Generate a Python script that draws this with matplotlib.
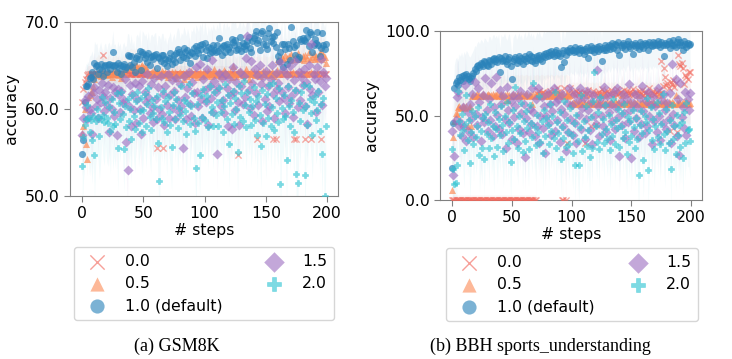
import numpy as np
import matplotlib
matplotlib.use("Agg")
import matplotlib.pyplot as plt

steps = list(range(200))
labels = ["0.0", "0.5", "1.0 (default)", "1.5", "2.0"]
panel_titles = ["(a) GSM8K", "(b) BBH sports_understanding"]

# ---------------- GSM8K ----------------
gsm_t00 = [
    60.8, 62.3, 63.1, 63.5, 63.9, 64.0, 64.0, 64.0, 64.0, 64.0,
    64.0, 64.0, 64.0, 64.0, 64.0, 64.0, 64.0, 66.2, 64.0, 64.0,
    64.0, 64.0, 64.0, 64.0, 64.0, 64.0, 64.0, 64.0, 64.0, 64.0,
    64.0, 64.0, 64.0, 64.0, 64.0, 64.0, 64.0, 64.0, 64.0, 64.0,
    64.0, 64.0, 64.0, 64.0, 64.0, 64.0, 64.0, 64.0, 64.0, 64.0,
    64.0, 64.0, 64.0, 64.0, 64.0, 64.0, 64.0, 64.0, 64.0, 64.0,
    64.0, 55.5, 64.0, 64.0, 64.0, 64.0, 55.5, 64.0, 64.0, 64.0,
    64.0, 64.0, 64.0, 64.0, 64.0, 64.0, 64.0, 64.0, 64.0, 64.0,
    64.0, 64.0, 64.0, 64.0, 64.0, 64.0, 64.0, 64.0, 64.0, 64.0,
    64.0, 64.0, 64.0, 64.0, 64.0, 64.0, 64.0, 64.0, 64.0, 64.0,
    64.0, 64.0, 64.0, 64.0, 64.0, 64.0, 64.0, 64.0, 64.0, 64.0,
    64.0, 64.0, 64.0, 64.0, 64.0, 64.0, 64.0, 64.0, 64.0, 64.0,
    64.0, 64.0, 64.0, 64.0, 64.0, 64.0, 64.0, 54.7, 64.0, 64.0,
    64.0, 64.0, 64.0, 64.0, 64.0, 64.0, 64.0, 64.0, 64.0, 64.0,
    64.0, 64.0, 64.0, 56.5, 64.0, 64.0, 64.0, 64.0, 64.0, 64.0,
    64.0, 64.0, 64.0, 64.0, 64.0, 64.0, 56.5, 64.0, 56.5, 64.0,
    64.0, 64.0, 64.0, 64.0, 64.0, 64.0, 64.0, 64.0, 64.0, 64.0,
    64.0, 64.0, 64.0, 56.5, 64.0, 56.5, 64.0, 64.0, 64.0, 64.0,
    64.0, 64.0, 56.5, 64.0, 64.0, 64.0, 64.0, 56.5, 64.0, 64.0,
    64.0, 64.0, 64.0, 64.0, 64.0, 56.5, 64.0, 64.0, 64.0, 64.0,
]
gsm_t05 = [
    57.2, 58.0, 60.0, 56.0, 54.3, 61.4, 61.6, 61.9, 62.0, 62.6,
    63.5, 63.9, 64.0, 64.3, 64.2, 63.8, 64.1, 64.4, 64.0, 64.2,
    63.9, 64.1, 64.3, 64.0, 63.7, 64.2, 64.0, 64.5, 64.1, 63.9,
    64.2, 64.0, 63.6, 64.3, 64.1, 64.0, 64.8, 64.9, 64.7, 64.9,
    65.0, 64.8, 64.9, 64.7, 65.0, 64.9, 64.8, 64.6, 64.9, 65.0,
    64.8, 64.9, 64.7, 64.2, 64.0, 63.9, 64.1, 64.3, 64.0, 64.5,
    64.0, 64.2, 63.8, 64.1, 64.0, 64.4, 64.1, 63.9, 64.2, 64.0,
    63.7, 64.1, 64.0, 64.3, 64.0, 63.9, 64.2, 63.6, 64.0, 64.1,
    64.3, 63.9, 64.1, 63.5, 64.0, 64.2, 63.8, 64.1, 64.0, 64.4,
    64.0, 63.9, 64.2, 64.1, 63.7, 64.0, 64.3, 64.0, 63.8, 64.1,
    64.2, 63.9, 64.0, 64.4, 64.1, 63.8, 64.0, 64.2, 64.6, 64.1,
    63.9, 64.0, 64.3, 63.8, 64.1, 64.0, 64.5, 64.2, 63.9, 64.1,
    64.0, 64.3, 63.7, 64.9, 64.1, 64.0, 63.8, 64.2, 64.0, 64.4,
    64.1, 63.9, 64.0, 64.2, 64.6, 64.0, 63.5, 64.1, 64.3, 64.0,
    64.2, 63.9, 64.1, 64.0, 64.3, 63.8, 64.1, 64.0, 64.4, 64.2,
    64.0, 64.1, 63.9, 64.2, 64.0, 64.3, 64.1, 63.8, 64.0, 64.5,
    65.8, 65.5, 64.1, 66.0, 65.7, 64.3, 66.2, 65.9, 64.0, 66.1,
    65.6, 66.3, 64.2, 65.8, 66.0, 64.1, 66.4, 65.7, 65.9, 64.3,
    66.1, 65.6, 66.2, 64.0, 65.9, 66.5, 65.8, 64.2, 66.0, 66.3,
    65.7, 66.1, 64.1, 65.9, 66.4, 66.7, 65.8, 66.2, 66.0, 65.3,
]
gsm_t10 = [
    54.8, 56.4, 60.8, 62.7, 62.6, 62.9, 63.6, 63.7, 64.2, 63.4,
    65.3, 64.9, 65.1, 64.0, 64.6, 65.2, 64.5, 63.8, 64.9, 65.1,
    64.3, 65.0, 65.2, 64.6, 65.1, 66.5, 64.9, 65.0, 64.2, 65.3,
    64.7, 65.1, 64.0, 64.9, 65.2, 64.6, 64.8, 66.2, 66.1, 65.0,
    66.1, 64.8, 65.4, 64.2, 65.9, 66.1, 65.7, 66.7, 64.5, 66.5,
    66.3, 65.9, 66.2, 65.4, 66.4, 65.1, 66.0, 66.1, 65.8, 66.2,
    66.3, 64.7, 66.0, 65.9, 65.5, 66.2, 66.2, 65.3, 65.8, 64.9,
    65.6, 65.9, 66.4, 65.2, 65.8, 66.2, 65.4, 66.4, 66.9, 66.6,
    65.6, 66.3, 66.0, 67.0, 66.5, 65.9, 66.8, 66.2, 65.3, 66.6,
    66.4, 67.0, 66.1, 67.2, 66.8, 66.4, 67.3, 66.9, 67.5, 66.0,
    67.6, 66.8, 65.9, 67.1, 66.4, 67.0, 66.5, 67.3, 66.8, 66.5,
    67.3, 66.7, 68.2, 67.0, 66.2, 67.2, 67.4, 66.6, 67.5, 66.9,
    67.1, 66.5, 68.0, 67.7, 67.3, 67.9, 66.8, 66.9, 67.3, 68.3,
    66.7, 67.6, 67.2, 66.9, 67.4, 67.8, 68.3, 67.0, 66.5, 67.8,
    68.2, 68.5, 69.0, 67.6, 67.9, 66.8, 68.7, 69.0, 67.5, 68.2,
    67.4, 66.9, 68.7, 69.3, 67.8, 68.3, 67.6, 68.4, 67.1, 68.8,
    66.1, 65.5, 66.6, 67.5, 64.8, 67.5, 66.9, 65.2, 67.5, 67.0,
    65.6, 69.4, 67.8, 67.1, 66.2, 67.4, 65.7, 66.0, 68.0, 67.8,
    68.2, 67.9, 67.8, 69.1, 68.3, 67.2, 68.9, 68.6, 66.5, 67.3,
    68.1, 67.6, 68.8, 67.4, 66.1, 67.0, 68.7, 67.3, 66.9, 67.5,
]
gsm_t15 = [
    57.0, 59.0, 61.0, 60.2, 58.9, 61.5, 60.0, 59.5, 57.1, 61.8,
    62.5, 60.3, 61.2, 59.0, 62.2, 60.8, 63.0, 61.5, 59.8, 62.0,
    60.5, 62.8, 57.4, 61.3, 60.0, 62.5, 59.2, 61.9, 57.0, 62.3,
    61.6, 59.6, 62.1, 60.7, 61.0, 63.4, 56.2, 53.0, 60.4, 62.8,
    58.1, 61.7, 59.9, 63.0, 58.4, 61.2, 62.6, 60.0, 57.1, 63.2,
    59.0, 62.0, 60.8, 64.0, 61.4, 59.5, 62.9, 60.2, 58.5, 63.6,
    61.2, 58.8, 62.5, 60.0, 63.8, 59.4, 61.7, 58.2, 62.6, 60.5,
    64.0, 59.0, 61.6, 63.3, 60.1, 62.1, 58.8, 63.6, 61.0, 59.7,
    62.9, 60.3, 55.5, 63.8, 61.4, 58.9, 62.4, 64.3, 60.6, 59.2,
    63.1, 61.8, 58.4, 64.8, 62.0, 60.4, 65.2, 61.1, 59.0, 63.5,
    62.2, 60.8, 64.6, 58.2, 62.7, 61.3, 65.6, 59.6, 63.2, 61.9,
    54.8, 62.5, 64.1, 60.3, 63.6, 61.0, 59.5, 64.0, 62.4, 58.0,
    63.4, 61.6, 57.7, 64.8, 62.0, 59.9, 63.1, 60.8, 58.2, 64.2,
    62.7, 60.6, 63.8, 61.4, 65.9, 68.4, 62.2, 60.1, 65.5, 63.0,
    59.3, 64.6, 61.8, 63.9, 60.5, 65.1, 62.9, 58.6, 63.7, 61.2,
    64.4, 59.8, 62.6, 60.3, 63.5, 65.0, 61.7, 59.0, 64.1, 62.3,
    63.0, 60.9, 65.4, 62.0, 64.5, 61.3, 59.5, 63.9, 62.5, 60.7,
    64.9, 61.5, 59.1, 63.3, 65.5, 62.1, 60.2, 64.2, 61.0, 63.7,
    62.8, 64.6, 60.4, 63.1, 58.3, 65.0, 62.3, 67.5, 61.6, 64.0,
    63.5, 59.6, 64.8, 61.9, 63.2, 65.7, 60.5, 64.3, 62.7, 63.6,
]
gsm_t20 = [
    53.4, 56.8, 58.2, 58.9, 60.5, 59.0, 57.3, 58.7, 56.4, 59.2,
    54.7, 58.6, 60.0, 59.1, 56.9, 58.8, 61.4, 59.3, 58.5, 60.8,
    59.0, 58.4, 60.2, 57.5, 61.2, 58.0, 59.6, 58.3, 61.8, 55.5,
    60.7, 58.9, 62.0, 59.4, 55.4, 60.3, 57.9, 61.1, 58.6, 60.0,
    56.6, 61.6, 59.2, 57.7, 60.9, 62.0, 58.4, 59.8, 61.3, 57.4,
    59.9, 61.7, 58.1, 60.6, 62.4, 59.1, 57.6, 61.0, 59.5, 60.4,
    58.8, 61.5, 56.1, 51.7, 60.2, 59.0, 62.1, 58.5, 60.9, 57.3,
    61.4, 59.7, 58.2, 55.6, 60.5, 62.0, 58.9, 61.2, 57.8, 60.1,
    59.3, 62.6, 58.6, 61.0, 59.8, 57.1, 60.7, 62.9, 58.3, 60.4,
    61.8, 59.0, 57.5, 53.2, 60.6, 58.4, 54.7, 61.6, 59.1, 62.3,
    58.7, 60.9, 61.5, 57.9, 62.7, 59.6, 60.2, 58.1, 61.9, 59.3,
    60.8, 58.0, 62.4, 59.7, 61.0, 57.4, 60.4, 62.9, 58.9, 61.6,
    56.0, 60.7, 59.4, 62.1, 58.3, 61.3, 60.0, 55.0, 62.6, 59.1,
    61.8, 58.6, 63.2, 60.5, 57.9, 62.0, 59.7, 61.1, 58.2, 60.3,
    62.5, 58.7, 60.9, 57.0, 61.5, 59.3, 55.8, 62.2, 58.4, 60.6,
    56.9, 61.7, 59.0, 62.8, 58.1, 60.2, 63.0, 57.6, 61.3, 59.5,
    58.5, 62.4, 51.4, 60.1, 58.8, 61.6, 59.2, 54.1, 62.7, 60.3,
    58.0, 61.0, 59.6, 57.3, 62.2, 52.5, 51.5, 60.7, 58.6, 61.9,
    59.9, 62.8, 52.4, 60.4, 58.2, 62.7, 61.2, 59.5, 57.0, 60.8,
    61.5, 58.7, 59.9, 62.1, 57.5, 60.6, 54.8, 61.3, 50.0, 58.0,
]

# ---------------- BBH sports_understanding ----------------
bbh_t00 = [
    0.0, 0.0, 0.0, 0.0, 0.0, 0.0, 0.0, 0.0, 0.0, 0.0,
    0.0, 0.0, 0.0, 0.0, 0.0, 0.0, 0.0, 0.0, 0.0, 0.0,
    0.0, 0.0, 0.0, 0.0, 0.0, 0.0, 0.0, 0.0, 0.0, 0.0,
    0.0, 0.0, 0.0, 0.0, 0.0, 0.0, 0.0, 0.0, 0.0, 0.0,
    0.0, 0.0, 0.0, 0.0, 0.0, 0.0, 0.0, 0.0, 0.0, 0.0,
    0.0, 0.0, 0.0, 0.0, 0.0, 0.0, 0.0, 0.0, 0.0, 0.0,
    0.0, 0.0, 0.0, 0.0, 0.0, 0.0, 0.0, 0.0, 0.0, 0.0,
    0.0, 62.5, 63.0, 64.5, 62.0, 63.5, 64.0, 62.5, 63.0, 61.5,
    63.5, 62.0, 64.5, 62.5, 63.0, 65.0, 63.5, 62.0, 66.0, 64.0,
    63.0, 62.5, 0.0, 0.0, 66.0, 0.0, 33.6, 63.5, 62.0, 66.0,
    62.5, 64.0, 63.0, 62.0, 64.5, 63.5, 62.5, 64.0, 61.0, 63.0,
    64.0, 33.7, 62.5, 63.5, 65.0, 62.0, 44.0, 63.0, 64.5, 62.5,
    44.5, 63.5, 62.0, 64.0, 63.0, 65.5, 62.5, 64.0, 63.5, 62.0,
    64.5, 63.0, 62.5, 65.0, 63.5, 62.0, 64.0, 63.0, 65.5, 62.5,
    63.5, 64.0, 62.0, 63.0, 65.0, 62.5, 64.5, 63.5, 62.0, 64.0,
    63.0, 65.5, 62.5, 64.0, 63.5, 62.0, 64.5, 63.0, 62.5, 65.0,
    62.0, 63.5, 64.0, 62.5, 63.0, 66.0, 62.0, 63.5, 64.5, 62.5,
    63.0, 64.0, 62.5, 65.0, 63.5, 82.0, 67.5, 78.0, 73.0, 68.0,
    69.0, 66.5, 40.8, 70.0, 68.5, 71.0, 67.0, 69.5, 40.0, 86.0,
    80.5, 79.5, 81.0, 78.0, 68.5, 74.0, 73.0, 71.5, 76.0, 75.5,
]
bbh_t05 = [
    6.0, 37.0, 47.0, 51.5, 51.0, 55.0, 55.5, 54.5, 55.0, 55.5,
    55.0, 54.5, 55.5, 44.0, 55.0, 55.5, 44.0, 61.5, 62.0, 61.5,
    62.0, 62.5, 61.5, 62.0, 61.5, 62.0, 63.0, 62.0, 61.5, 62.0,
    62.5, 62.0, 61.5, 62.0, 62.5, 61.5, 62.0, 62.0, 62.5, 61.5,
    62.0, 62.5, 61.5, 62.0, 62.0, 59.0, 62.5, 59.0, 62.0, 61.5,
    62.0, 62.5, 61.5, 62.0, 62.0, 62.5, 61.5, 62.0, 62.5, 62.0,
    61.5, 62.0, 62.5, 62.0, 61.5, 62.0, 62.0, 57.0, 62.5, 61.5,
    62.0, 62.5, 62.0, 61.5, 62.0, 62.5, 62.0, 61.5, 62.0, 62.0,
    62.5, 61.5, 62.0, 62.5, 62.0, 61.5, 62.0, 62.0, 62.5, 61.5,
    62.0, 62.5, 62.0, 61.5, 62.0, 62.0, 62.5, 61.5, 62.0, 57.5,
    57.0, 58.0, 57.5, 57.0, 58.0, 57.5, 57.0, 58.5, 57.5, 57.0,
    58.0, 57.5, 62.0, 57.0, 58.0, 57.5, 57.0, 58.0, 57.5, 57.0,
    58.0, 57.5, 57.0, 58.5, 57.5, 57.0, 58.0, 62.0, 57.5, 57.0,
    58.0, 57.5, 57.0, 58.0, 57.5, 57.0, 58.5, 57.5, 57.0, 58.0,
    57.5, 57.0, 62.0, 58.0, 57.5, 57.0, 58.0, 57.5, 57.0, 58.5,
    57.5, 57.0, 58.0, 57.5, 57.0, 58.0, 62.0, 57.5, 57.0, 58.0,
    57.5, 57.0, 58.5, 57.5, 57.0, 58.0, 57.5, 57.0, 58.0, 57.5,
    57.0, 58.0, 57.5, 62.0, 57.0, 58.0, 57.5, 57.0, 58.5, 57.5,
    57.0, 58.0, 57.5, 57.0, 58.0, 57.5, 57.0, 62.0, 57.5, 57.0,
    58.0, 57.5, 57.0, 58.0, 57.5, 57.0, 58.5, 57.5, 57.0, 57.5,
]
bbh_t10 = [
    19.0, 45.5, 66.0, 69.5, 70.5, 68.0, 72.5, 71.0, 73.5, 70.5,
    74.0, 72.0, 74.5, 73.5, 71.5, 70.5, 72.0, 73.5, 75.0, 77.5,
    76.5, 79.0, 80.0, 78.5, 81.0, 80.5, 79.0, 82.0, 81.5, 80.0,
    79.5, 83.0, 82.5, 80.5, 83.5, 84.0, 82.0, 83.5, 81.5, 84.5,
    76.0, 84.0, 82.5, 83.0, 85.0, 82.0, 80.5, 83.5, 84.5, 79.5,
    71.5, 82.0, 83.5, 84.5, 81.0, 83.0, 85.0, 82.5, 84.0, 80.5,
    83.5, 85.5, 82.0, 84.0, 86.5, 83.0, 85.0, 82.5, 84.5, 81.0,
    83.0, 85.5, 84.0, 86.0, 83.5, 82.0, 85.0, 86.5, 84.5, 87.0,
    85.5, 87.5, 86.0, 88.0, 86.5, 85.0, 87.5, 88.5, 86.0, 87.0,
    85.5, 78.5, 87.0, 88.5, 81.5, 86.0, 89.0, 88.0, 87.5, 90.0,
    88.5, 89.0, 87.5, 90.5, 88.0, 89.5, 87.0, 90.0, 88.5, 89.0,
    86.5, 89.5, 88.0, 90.5, 84.0, 89.0, 91.0, 88.5, 90.0, 87.5,
    89.5, 90.5, 88.0, 91.0, 89.5, 82.0, 90.0, 88.5, 91.5, 89.0,
    90.5, 92.0, 89.5, 91.0, 93.0, 90.0, 92.5, 91.5, 89.0, 93.5,
    86.0, 92.0, 90.5, 93.0, 91.5, 89.5, 92.5, 94.0, 91.0, 90.0,
    92.5, 86.5, 91.5, 93.0, 90.5, 92.0, 89.5, 93.5, 91.0, 92.5,
    90.0, 93.0, 91.5, 92.5, 89.0, 93.5, 92.0, 91.0, 93.5, 92.0,
    93.0, 91.5, 94.0, 92.5, 90.5, 93.5, 92.0, 85.5, 93.0, 91.5,
    92.5, 94.0, 90.0, 93.0, 91.5, 94.5, 92.0, 90.5, 93.5, 95.0,
    91.5, 93.5, 92.0, 89.0, 94.0, 92.5, 90.5, 93.0, 91.5, 92.5,
]
bbh_t15 = [
    41.0, 14.5, 26.0, 47.5, 61.0, 64.0, 44.0, 46.0, 38.0, 55.0,
    43.0, 68.0, 35.0, 52.0, 40.0, 57.0, 48.0, 63.0, 37.5, 70.0,
    51.0, 44.5, 66.0, 58.0, 35.0, 49.0, 62.0, 46.0, 72.0, 53.5,
    41.0, 60.0, 47.5, 69.0, 38.0, 55.0, 44.0, 73.0, 50.5, 42.0,
    65.0, 57.0, 39.0, 61.5, 48.0, 30.5, 67.0, 53.0, 45.5, 58.5,
    36.0, 62.0, 49.0, 55.5, 33.5, 60.5, 42.0, 64.5, 51.5, 39.5,
    57.0, 25.5, 48.5, 63.0, 40.5, 54.0, 45.0, 66.0, 52.0, 38.0,
    59.5, 43.5, 66.0, 34.0, 49.5, 61.0, 42.5, 55.5, 28.0, 50.0,
    63.5, 45.5, 57.0, 38.5, 52.5, 66.5, 41.0, 58.0, 47.5, 60.0,
    34.5, 54.0, 62.5, 44.0, 51.0, 29.0, 57.5, 40.0, 66.5, 48.0,
    56.0, 38.5, 63.0, 45.5, 33.5, 59.0, 50.5, 66.0, 42.0, 54.5,
    60.5, 36.0, 48.0, 64.5, 53.0, 41.5, 58.0, 33.0, 62.0, 49.5,
    45.0, 77.0, 55.5, 38.0, 60.0, 50.0, 43.5, 67.0, 56.5, 40.0,
    61.5, 52.0, 35.5, 57.0, 47.0, 63.5, 42.0, 54.5, 66.0, 49.0,
    26.0, 58.0, 44.5, 62.5, 51.5, 36.5, 59.5, 46.0, 68.5, 53.0,
    25.0, 57.5, 41.0, 63.0, 48.5, 55.0, 37.0, 60.5, 45.0, 67.5,
    52.5, 39.5, 58.5, 44.0, 64.0, 49.5, 56.0, 33.0, 61.0, 47.0,
    55.5, 40.5, 66.0, 50.0, 35.5, 59.0, 45.5, 62.5, 53.5, 42.0,
    57.5, 48.0, 63.5, 34.0, 80.5, 51.0, 44.5, 71.5, 38.0, 60.0,
    26.5, 69.5, 49.0, 55.0, 42.5, 64.0, 38.5, 59.5, 53.0, 63.5,
]
bbh_t20 = [
    30.0, 18.5, 9.5, 10.0, 20.5, 64.5, 47.0, 38.5, 51.0, 41.5,
    29.5, 45.0, 62.0, 35.5, 47.5, 22.0, 40.0, 52.5, 33.0, 49.5,
    37.0, 44.0, 55.0, 26.5, 41.0, 31.0, 48.5, 24.5, 51.0, 39.0,
    46.0, 30.5, 57.0, 36.5, 43.5, 26.0, 52.0, 42.0, 31.5, 48.0,
    38.5, 55.5, 44.5, 29.0, 50.0, 40.5, 58.0, 33.5, 46.0, 22.5,
    41.5, 53.0, 36.0, 67.0, 44.0, 31.0, 49.5, 39.5, 57.5, 28.5,
    47.0, 35.0, 52.5, 42.5, 30.0, 56.0, 45.5, 37.5, 69.0, 43.0,
    32.5, 50.5, 40.0, 61.5, 34.5, 46.5, 28.0, 53.5, 38.0, 48.5,
    44.5, 33.0, 57.0, 41.0, 50.0, 36.5, 64.0, 30.5, 46.0, 39.5,
    52.0, 24.0, 43.0, 36.5, 58.5, 31.5, 47.5, 40.0, 33.0, 54.5,
    38.5, 28.0, 45.5, 21.0, 50.5, 35.0, 20.5, 43.0, 62.0, 29.0,
    47.0, 37.5, 55.5, 32.0, 41.5, 25.5, 49.0, 31.0, 58.5, 75.5,
    44.0, 34.5, 52.0, 30.0, 61.0, 39.0, 48.0, 33.5, 56.5, 42.0,
    36.0, 50.5, 29.5, 45.0, 38.0, 59.5, 33.0, 47.5, 42.5, 54.0,
    31.5, 44.0, 51.5, 36.5, 57.0, 40.5, 27.0, 49.0, 34.5, 46.5,
    38.0, 53.5, 43.0, 30.5, 48.5, 36.0, 14.5, 44.5, 52.5, 39.5,
    23.5, 50.0, 46.0, 60.5, 17.5, 41.5, 55.0, 35.5, 48.0, 30.0,
    43.5, 58.0, 37.0, 51.5, 33.0, 45.0, 62.5, 39.0, 29.5, 54.0,
    41.0, 33.5, 47.5, 18.5, 56.0, 36.0, 44.0, 27.5, 50.5, 38.5,
    44.5, 31.5, 46.0, 25.0, 52.0, 34.0, 57.5, 41.5, 42.0, 35.0,
]

# spread of the shaded bands (per series)
gsm_spread = [1.0, 2.0, 2.5, 4.0, 5.0]
bbh_spread = [3.0, 12.0, 14.0, 20.0, 22.0]

gsm_series = [gsm_t00, gsm_t05, gsm_t10, gsm_t15, gsm_t20]
bbh_series = [bbh_t00, bbh_t05, bbh_t10, bbh_t15, bbh_t20]

colors = ["#f2665a", "#fc8d59", "#2b83ba", "#9e72c3", "#2ec4d2"]
markers = ["x", "^", "o", "D", "P"]
sizes = [20, 26, 26, 26, 22]
edge_w = [1.0, 0.0, 0.0, 0.0, 0.4]
alphas = [0.55, 0.7, 0.7, 0.65, 0.62]
leg_scale = [2.3, 2.0, 2.0, 2.05, 2.1]

plt.rcParams["font.family"] = ["DejaVu Sans"]
fig = plt.figure(figsize=(7.32, 3.59), dpi=100)

axes_rects = [
    [70 / 732, 1 - 196 / 359, 268 / 732, 174 / 359],
    [440 / 732, 1 - 200 / 359, 262 / 732, 169 / 359],
]
ylims = [(50, 70), (0, 100)]
yticks = [[50, 60, 70], [0, 50, 100]]
legend_boxes = [
    (74 / 732, 0.05, 260 / 732, 1 - 247 / 359 - 0.05),
    (446 / 732, 0.05, 252 / 732, 1 - 248 / 359 - 0.05),
]
caption_x = [177 / 732, 540 / 732]

x = np.array(steps)
for pi, series in enumerate([gsm_series, bbh_series]):
    ax = fig.add_axes(axes_rects[pi])
    spreads = gsm_spread if pi == 0 else bbh_spread
    handles = []
    for si, vals in enumerate(series):
        y = np.array(vals)
        ax.fill_between(x, y - spreads[si], y + spreads[si],
                        color=colors[si], alpha=0.06, linewidth=0)
    for si, vals in enumerate(series):
        h = ax.scatter(x, vals, marker=markers[si], s=sizes[si],
                       color=colors[si], alpha=alphas[si],
                       linewidths=edge_w[si],
                       label=labels[si], zorder=3)
        handles.append(h)
    ax.set_ylim(*ylims[pi])
    ax.set_xlim(-10, 209)
    ax.set_xticks([0, 50, 100, 150, 200])
    ax.set_yticks(yticks[pi])
    ax.set_yticklabels([f"{v:.1f}" for v in yticks[pi]])
    ax.tick_params(labelsize=11.3, color="#808080", length=4)
    for sp in ax.spines.values():
        sp.set_color("#808080")
    ax.set_xlabel("# steps", fontsize=11.3, labelpad=1)
    ax.set_ylabel("accuracy", fontsize=11.3)
    leg = ax.legend(handles, labels,
                    loc="upper center", bbox_to_anchor=legend_boxes[pi],
                    bbox_transform=fig.transFigure, mode="expand", ncol=2,
                    fontsize=11.3, markerscale=1.0, labelspacing=0.45,
                    handletextpad=0.8, borderpad=0.45, borderaxespad=0.0)
    for si, lh in enumerate(leg.legend_handles):
        lh.set_alpha(0.62)
        lh.set_sizes([sizes[si] * leg_scale[si] ** 2])
    fig.text(caption_x[pi], 1 - 346 / 359, panel_titles[pi],
             family=["Liberation Serif", "DejaVu Serif"], fontsize=13,
             ha="center", va="center")

fig.savefig("out.png", dpi=100)
